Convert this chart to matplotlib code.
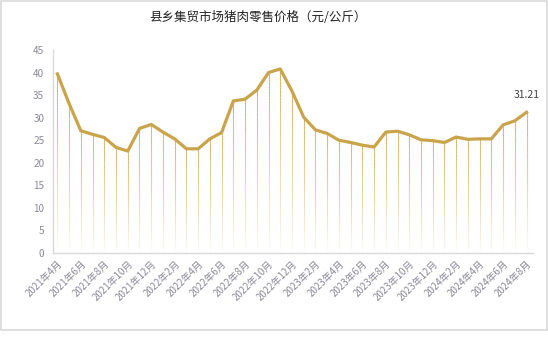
import numpy as np
import matplotlib
matplotlib.use("Agg")
import matplotlib.pyplot as plt
from matplotlib.collections import LineCollection
from matplotlib.patches import Rectangle

plt.rcParams['font.family'] = ['Noto Sans CJK SC', 'DejaVu Sans']

# 月份 2021-04 .. 2024-08
months = [f"{y}年{m}月" for y in range(2021, 2025) for m in range(1, 13)]
months = months[3:3 + 41]
prices = [39.7, 33.1, 27.1, 26.3, 25.6, 23.4, 22.6, 27.6, 28.5, 26.8,
          25.3, 23.1, 23.1, 25.3, 26.7, 33.7, 34.1, 36.1, 40.0, 40.8,
          35.9, 30.1, 27.3, 26.5, 25.0, 24.5, 23.9, 23.5, 26.8, 27.0,
          26.2, 25.1, 24.9, 24.5, 25.7, 25.2, 25.3, 25.3, 28.4, 29.3,
          31.21]
title = "县乡集贸市场猪肉零售价格（元/公斤）"

gold = "#C9A44A"
drop = np.array(matplotlib.colors.to_rgb("#D2B163"))

fig = plt.figure(figsize=(5.48, 3.39), dpi=100)
ax = fig.add_axes([52.7 / 548, 1 - 253 / 339, (533 - 52.7) / 548, (253 - 50) / 339])

x = np.arange(len(prices))

# líneas verticales con degradado (se desvanecen hacia abajo)
segs, cols = [], []
n_steps = 60
for xi, v in zip(x, prices):
    ys = np.linspace(0, v, n_steps + 1)
    for k in range(n_steps):
        segs.append([(xi, ys[k]), (xi, ys[k + 1])])
        a = ((k + 0.5) / n_steps) ** 0.9
        cols.append((*drop, a))
ax.add_collection(LineCollection(segs, colors=cols, linewidths=0.8, capstyle='butt'))

ax.plot(x, prices, color=gold, lw=2.3, solid_joinstyle='round', zorder=3)

ax.annotate(f"{prices[-1]:.2f}", (x[-1], prices[-1]), xytext=(0, 9),
            textcoords='offset points', ha='center', va='bottom',
            fontsize=7.5, color="#404040")

ax.set_xlim(-0.4, len(prices) - 1 + 0.55)
ax.set_ylim(0, 45)
ax.set_yticks(range(0, 46, 5))
ax.set_xticks(x[::2])
ax.set_xticklabels(months[::2], rotation=45, ha='right', rotation_mode='anchor')
ax.tick_params(axis='both', length=0, colors="#8a8a98", labelsize=7.2)
ax.tick_params(axis='x', pad=4, labelsize=7)
ax.tick_params(axis='y', pad=6)

for s in ['top', 'right']:
    ax.spines[s].set_visible(False)
for s in ['left', 'bottom']:
    ax.spines[s].set_color("#d9d9d9")
    ax.spines[s].set_linewidth(1)

fig.text(258 / 548, 1 - 17 / 339, title, ha='center', va='center',
         fontsize=9, color="#222222")

# marco exterior
fig.patches.append(Rectangle((0.5 / 548, 1 - 329.5 / 339), 546.8 / 548, 329 / 339,
                             transform=fig.transFigure, fill=False,
                             edgecolor="#d9d9d9", lw=1.2))

fig.savefig("out.png", dpi=100)
